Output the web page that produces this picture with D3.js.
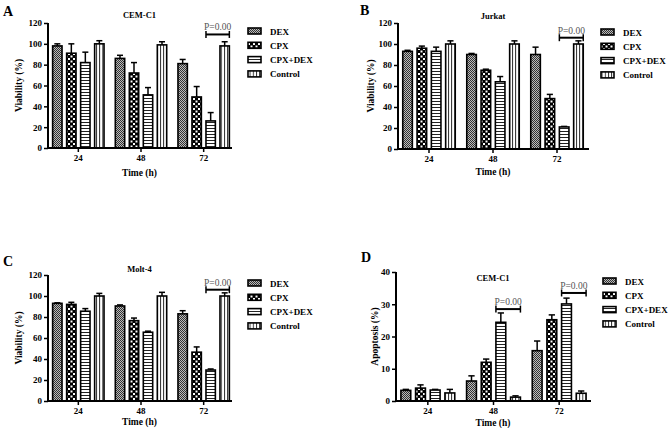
<!DOCTYPE html>
<html>
<head>
<meta charset="utf-8">
<script src="https://cdn.jsdelivr.net/npm/d3@7"></script>
<style>
  body { margin: 0; background: #fff; }
  svg text { font-family: "Liberation Serif", "Times New Roman", serif; }
</style>
</head>
<body>
<div id="vis"></div>
<script>
// ---- data ----
var times = ["24", "48", "72"];
var series = ["DEX", "CPX", "CPX+DEX", "Control"];

// values per time point, series in order DEX, CPX, CPX+DEX, Control
var cemViab    = [[98, 91, 82, 100], [86, 72, 51, 99], [81, 49, 26, 98]];
var cemViabErr = [[2, 9, 10, 3], [3, 10, 7, 3], [4, 10, 8, 4]];
var jurkatViab    = [[93, 96, 93, 100], [90, 75, 64, 100], [90, 48, 21, 100]];
var jurkatViabErr = [[1, 2, 4, 3], [1, 1, 5, 3], [7, 4, 0.5, 3]];
var moltViab    = [[93, 92, 85.5, 100], [90.5, 76.5, 65.5, 100], [83, 46.5, 29.5, 100]];
var moltViabErr = [[0.5, 2, 2.5, 2.5], [1, 2.5, 1, 3.5], [3, 5, 1, 3]];
var cemApop    = [[3.3, 4.0, 3.4, 2.5], [6.2, 12, 24.4, 1.2], [15.6, 25.2, 30.1, 2.4]];
var cemApopErr = [[0.3, 1.0, 0.2, 1.1], [1.6, 1, 2.9, 0.4], [3, 1.5, 1.8, 0.7]];

// significance brackets: [time, level]
var cemViabP = [["72", 109]];
var jurkatViabP = [["72", 106]];
var moltViabP = [["72", 106]];
var cemApopP = [["48", 28.5], ["72", 33.5]];

var panels = [
  { letter: "A", title: "CEM-C1", ylab: "Viability (%)", vals: cemViab, errs: cemViabErr, p: cemViabP,
    ymax: 120, yticks: [0, 20, 40, 60, 80, 100, 120],
    x0: 47, x1: 235, axEnd: 232, y0: 148, y1: 23, lx: 248, ly: 31,
    letterPos: [3, 16], titleY: 18, ylabX: 22, xlabY: 176 },
  { letter: "B", title: "Jurkat", ylab: "Viability (%)", vals: jurkatViab, errs: jurkatViabErr, p: jurkatViabP,
    ymax: 120, yticks: [0, 20, 40, 60, 80, 100, 120],
    x0: 397, x1: 589, axEnd: 589, y0: 149, y1: 23, lx: 601, ly: 32,
    letterPos: [360, 15], titleY: 19, ylabX: 374, xlabY: 175 },
  { letter: "C", title: "Molt-4", ylab: "Viability (%)", vals: moltViab, errs: moltViabErr, p: moltViabP,
    ymax: 120, yticks: [0, 20, 40, 60, 80, 100, 120],
    x0: 47, x1: 235, axEnd: 232, y0: 401, y1: 275, lx: 248, ly: 283,
    letterPos: [3, 266], titleY: 272, ylabX: 22, xlabY: 425 },
  { letter: "D", title: "CEM-C1", ylab: "Apoptosis (%)", vals: cemApop, errs: cemApopErr, p: cemApopP,
    ymax: 40, yticks: [0, 10, 20, 30, 40],
    x0: 395, x1: 592, axEnd: 591, y0: 401, y1: 272, lx: 603, ly: 281,
    letterPos: [361, 262], titleY: 281, ylabX: 378, xlabY: 426 }
];

var svg = d3.select("#vis").append("svg")
    .attr("width", 668)
    .attr("height", 428);

// ---- fill patterns ----
var defs = svg.append("defs");

var p0 = defs.append("pattern").attr("id", "pat0")
    .attr("patternUnits", "userSpaceOnUse").attr("width", 2).attr("height", 2);
p0.append("rect").attr("width", 2).attr("height", 2).attr("fill", "#bbb");
p0.append("rect").attr("width", 1).attr("height", 1).attr("fill", "#333");
p0.append("rect").attr("x", 1).attr("y", 1).attr("width", 1).attr("height", 1).attr("fill", "#333");

// coarse checkerboard
var p1 = defs.append("pattern").attr("id", "pat1")
    .attr("patternUnits", "userSpaceOnUse").attr("width", 5).attr("height", 5);
p1.append("rect").attr("width", 5).attr("height", 5).attr("fill", "#000");
p1.append("rect").attr("x", 0.5).attr("y", 0.5).attr("width", 2).attr("height", 2).attr("fill", "#fff");
p1.append("rect").attr("x", 3).attr("y", 3).attr("width", 2).attr("height", 2).attr("fill", "#fff");

var p2 = defs.append("pattern").attr("id", "pat2")
    .attr("patternUnits", "userSpaceOnUse").attr("width", 4).attr("height", 3);
p2.append("rect").attr("width", 4).attr("height", 3).attr("fill", "#fff");
p2.append("rect").attr("y", 2).attr("width", 4).attr("height", 1).attr("fill", "#222");

var p3 = defs.append("pattern").attr("id", "pat3")
    .attr("patternUnits", "userSpaceOnUse").attr("width", 3.2).attr("height", 4);
p3.append("rect").attr("width", 3.2).attr("height", 4).attr("fill", "#fff");
p3.append("rect").attr("width", 0.9).attr("height", 4).attr("fill", "#222");

var fills = ["url(#pat0)", "url(#pat1)", "url(#pat2)", "url(#pat3)"];

panels.forEach(function (pn) {
  var g = svg.append("g");

  var x = d3.scaleBand().domain(times).range([pn.x0, pn.x1]);
  var xs = d3.scaleBand().domain(series)
      .range([-x.bandwidth() * 0.41, x.bandwidth() * 0.41])
      .paddingInner(0.33);
  var y = d3.scaleLinear().domain([0, pn.ymax]).range([pn.y0, pn.y1]);

  // bars
  times.forEach(function (t, ti) {
    var cx = x(t) + x.bandwidth() / 2;
    series.forEach(function (s, si) {
      var v = pn.vals[ti][si], e = pn.errs[ti][si];
      var bx = cx + xs(s), bw = xs.bandwidth();
      var mid = bx + bw / 2;
      // error bar (upper)
      g.append("line")
          .attr("x1", mid).attr("x2", mid)
          .attr("y1", y(v)).attr("y2", y(v + e))
          .attr("stroke", "#000").attr("stroke-width", 1.5);
      g.append("line")
          .attr("x1", mid - bw * 0.32).attr("x2", mid + bw * 0.32)
          .attr("y1", y(v + e)).attr("y2", y(v + e))
          .attr("stroke", "#000").attr("stroke-width", 1.5);
      g.append("rect")
          .attr("x", bx).attr("y", y(v))
          .attr("width", bw).attr("height", y(0) - y(v))
          .attr("fill", fills[si])
          .attr("stroke", "#000").attr("stroke-width", 1.6);
    });
  });

  // axes
  var yAxis = g.append("g")
      .attr("transform", "translate(" + (pn.x0 + 1) + ",0)")
      .call(d3.axisLeft(y).tickValues(pn.yticks).tickSize(4).tickPadding(2));
  var xAxis = g.append("g")
      .attr("transform", "translate(0," + pn.y0 + ")")
      .call(d3.axisBottom(x).tickSize(4).tickPadding(3));
  [xAxis, yAxis].forEach(function (ax) {
    ax.select(".domain").remove();
    ax.selectAll("line").attr("stroke", "#000").attr("stroke-width", 1.5);
    ax.selectAll("text").attr("font-size", 9).attr("font-weight", "bold")
      .attr("fill", "#000").attr("font-family", "Liberation Serif");
  });
  g.append("line").attr("x1", pn.x0 + 1).attr("x2", pn.x0 + 1)
      .attr("y1", pn.y1).attr("y2", pn.y0 + 1)
      .attr("stroke", "#000").attr("stroke-width", 2);
  g.append("line").attr("x1", pn.x0).attr("x2", pn.axEnd)
      .attr("y1", pn.y0).attr("y2", pn.y0)
      .attr("stroke", "#000").attr("stroke-width", 2);

  // significance brackets
  pn.p.forEach(function (d) {
    var cx = x(d[0]) + x.bandwidth() / 2;
    var xa = cx + xs("CPX+DEX"), xb = cx + xs("Control") + xs.bandwidth();
    var yy = y(d[1]);
    g.append("line").attr("x1", xa).attr("x2", xb).attr("y1", yy).attr("y2", yy)
        .attr("stroke", "#000").attr("stroke-width", 2);
    [xa, xb].forEach(function (xx) {
      g.append("line").attr("x1", xx).attr("x2", xx).attr("y1", yy - 3.5).attr("y2", yy + 3.5)
          .attr("stroke", "#000").attr("stroke-width", 1.5);
    });
    g.append("text").attr("x", (xa + xb) / 2).attr("y", yy - 4)
        .attr("text-anchor", "middle").attr("font-size", 9.5).attr("fill", "#555")
        .text("P=0.00");
  });

  // titles and labels
  g.append("text").attr("x", pn.letterPos[0]).attr("y", pn.letterPos[1])
      .attr("font-size", 14).attr("font-weight", "bold").text(pn.letter);
  g.append("text").attr("x", (pn.x0 + pn.axEnd) / 2).attr("y", pn.titleY)
      .attr("text-anchor", "middle").attr("font-size", 8.5).attr("font-weight", "bold")
      .text(pn.title);
  g.append("text")
      .attr("transform", "translate(" + pn.ylabX + "," + ((pn.y0 + pn.y1) / 2) + ") rotate(-90)")
      .attr("text-anchor", "middle").attr("font-size", 9.5).attr("font-weight", "bold")
      .text(pn.ylab);
  g.append("text").attr("x", (pn.x0 + pn.axEnd) / 2).attr("y", pn.xlabY)
      .attr("text-anchor", "middle").attr("font-size", 9.5).attr("font-weight", "bold")
      .text("Time (h)");

  // legend
  series.forEach(function (s, si) {
    var ly = pn.ly + si * 14.3;
    g.append("rect").attr("x", pn.lx).attr("y", ly - 3)
        .attr("width", 13).attr("height", 6)
        .attr("fill", fills[si]).attr("stroke", "#000").attr("stroke-width", 1.6);
    g.append("text").attr("x", pn.lx + 22).attr("y", ly + 3.5)
        .attr("font-size", 9).attr("font-weight", "bold").text(s);
  });
});
</script>
</body>
</html>
